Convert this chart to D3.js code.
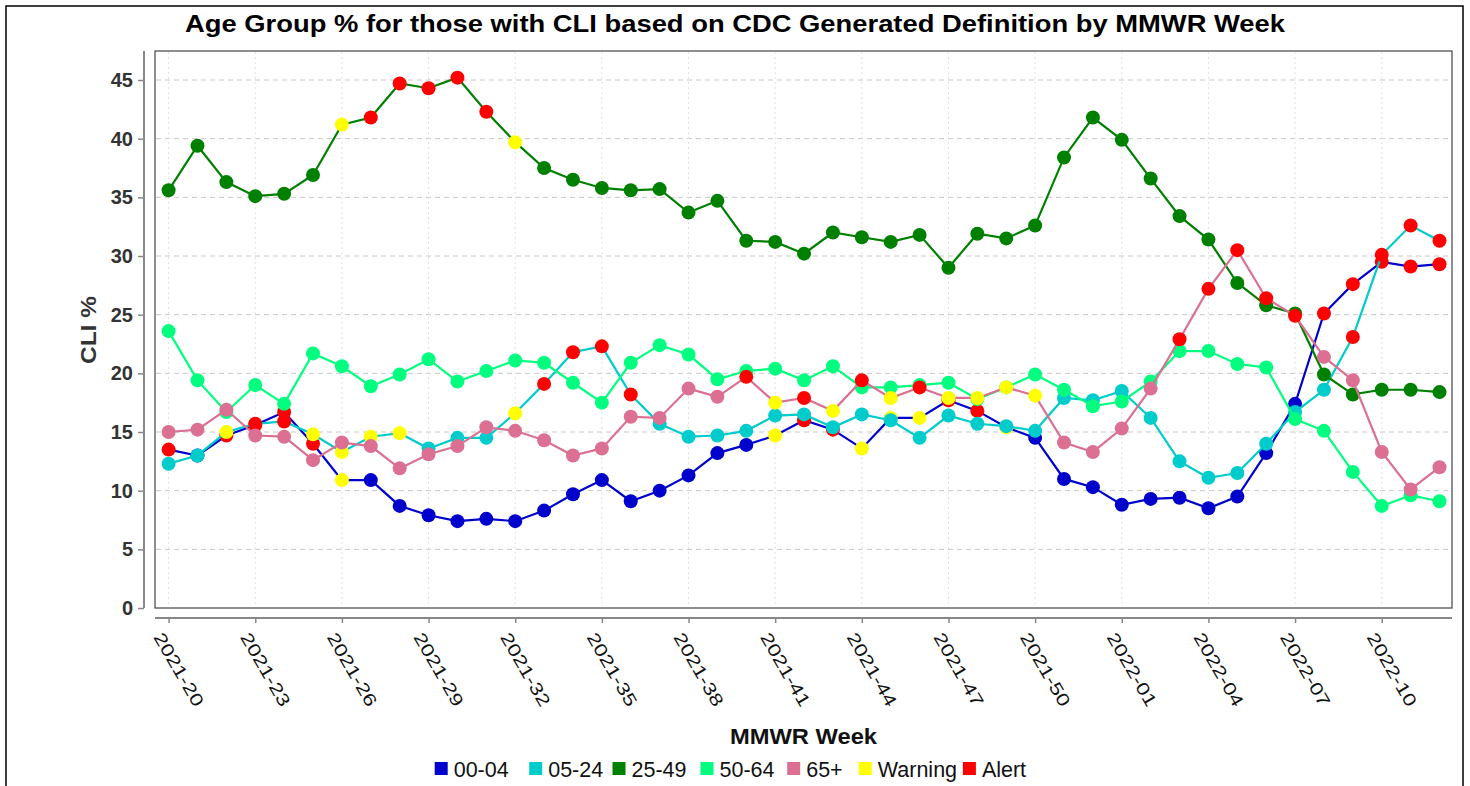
<!DOCTYPE html>
<html><head><meta charset="utf-8">
<script src="https://cdn.jsdelivr.net/npm/d3@7"></script>
<style>
body{margin:0;background:#fff;}
svg{display:block;font-family:"Liberation Sans",Arial,sans-serif;}
</style>
</head><body>
<svg id="chart" width="1470" height="786"></svg>
<script>
const weeks = ["2021-20","2021-21","2021-22","2021-23","2021-24","2021-25","2021-26","2021-27","2021-28","2021-29",
"2021-30","2021-31","2021-32","2021-33","2021-34","2021-35","2021-36","2021-37","2021-38","2021-39",
"2021-40","2021-41","2021-42","2021-43","2021-44","2021-45","2021-46","2021-47","2021-48","2021-49",
"2021-50","2021-51","2021-52","2022-01","2022-02","2022-03","2022-04","2022-05","2022-06","2022-07",
"2022-08","2022-09","2022-10","2022-11","2022-12"];
const xTickLabels = ["2021-20","2021-23","2021-26","2021-29","2021-32","2021-35","2021-38","2021-41",
"2021-44","2021-47","2021-50","2022-01","2022-04","2022-07","2022-10"];
const yTicks = [0,5,10,15,20,25,30,35,40,45];

const seriesNames = ["00-04","05-24","25-49","50-64","65+"];
const age0004 = [13.5,13.0,14.7,15.6,16.7,14.0,10.9,10.9,8.7,7.9,7.4,7.6,7.4,8.3,9.7,10.9,9.1,10.0,11.3,13.2,13.9,14.7,16.0,15.2,13.6,16.2,16.2,17.7,16.8,15.4,14.5,11.0,10.3,8.8,9.3,9.4,8.5,9.5,13.2,17.4,25.1,27.6,29.5,29.1,29.3];
const age0524 = [12.3,13.0,15.0,15.7,15.9,14.8,13.3,14.6,14.9,13.6,14.5,14.5,16.6,19.1,21.8,22.3,18.2,15.7,14.6,14.7,15.1,16.4,16.5,15.4,16.5,16.0,14.5,16.4,15.7,15.5,15.1,17.9,17.7,18.5,16.2,12.5,11.1,11.5,14.0,16.7,18.6,23.1,30.1,32.6,31.3];
const age2549 = [35.6,39.4,36.3,35.1,35.3,36.9,41.2,41.8,44.7,44.3,45.2,42.3,39.7,37.5,36.5,35.8,35.6,35.7,33.7,34.7,31.3,31.2,30.2,32.0,31.6,31.2,31.8,29.0,31.9,31.5,32.6,38.4,41.8,39.9,36.6,33.4,31.4,27.7,25.8,25.1,19.9,18.2,18.6,18.6,18.4];
const age5064 = [23.6,19.4,16.7,19.0,17.4,21.7,20.6,18.9,19.9,21.2,19.3,20.2,21.1,20.9,19.2,17.5,20.9,22.4,21.6,19.5,20.2,20.4,19.4,20.6,18.8,18.8,19.0,19.2,17.8,18.8,19.9,18.6,17.2,17.6,19.3,21.9,21.9,20.8,20.5,16.1,15.1,11.6,8.7,9.6,9.1];
const age65 = [15.0,15.2,16.9,14.7,14.6,12.6,14.1,13.8,11.9,13.1,13.8,15.4,15.1,14.3,13.0,13.6,16.3,16.2,18.7,18.0,19.7,17.5,17.9,16.8,19.4,17.9,18.8,17.9,17.9,18.8,18.1,14.1,13.3,15.3,18.7,22.9,27.2,30.5,26.4,24.9,21.4,19.4,13.3,10.1,12.0];

// point status per week: "." normal, "W" warning, "A" alert
const status0004 = "A.AAAAW..............WAAWWWAAW..........AAAAA";
const status0524 = "..WAAWWWW...WAAAA........................AAAA";
const status2549 = "......WAAAAAW................................";
const status5064 = ".............................................";
const status65   = "....................AWAWAWAWWWW....AAAAA.....";

const seriesColors = ["#0000CC","#00CCCC","#008000","#00FF7F","#DB7093"];
const warningColor = "#FFFF00", alertColor = "#FF0000";
const legendLabels = ["00-04","05-24","25-49","50-64","65+","Warning","Alert"];
const legendColors = seriesColors.concat([warningColor, alertColor]);

const seriesValues = [age0004, age0524, age2549, age5064, age65];
const seriesStatus = [status0004, status0524, status2549, status5064, status65];

const svg = d3.select("#chart");
const FONT = '"Liberation Sans",Arial,sans-serif';
const P = {left:155, right:1452, top:51, bottom:608};

const x = d3.scalePoint().domain(weeks).range([168.6, 1439.5]);
const y = d3.scaleLinear().domain([0,45]).range([608, 80]);

// outer frame
svg.append("rect").attr("x",6).attr("y",6).attr("width",1457).attr("height",800)
  .attr("fill","#fff").attr("stroke","#000").attr("stroke-width",1.5);

// title
svg.append("text").attr("x",735).attr("y",32).attr("text-anchor","middle")
  .attr("font-size",23.5).attr("font-weight","bold").attr("fill","#000")
  .attr("textLength",1100).attr("lengthAdjust","spacingAndGlyphs")
  .text("Age Group % for those with CLI based on CDC Generated Definition by MMWR Week");

// panel
svg.append("rect").attr("x",P.left).attr("y",P.top).attr("width",P.right-P.left).attr("height",P.bottom-P.top)
  .attr("fill","#fff").attr("stroke","#444").attr("stroke-width",1.2);

// grid
svg.append("g").selectAll("line").data(yTicks.filter(d=>d>0)).join("line")
  .attr("x1",P.left+1).attr("x2",P.right-1).attr("y1",d=>y(d)).attr("y2",d=>y(d))
  .attr("stroke","#c8c8c8").attr("stroke-dasharray","5,4").attr("stroke-width",1);
svg.append("g").selectAll("line").data(xTickLabels).join("line")
  .attr("x1",d=>x(d)).attr("x2",d=>x(d)).attr("y1",P.top+1).attr("y2",P.bottom-1)
  .attr("stroke","#e2e2e2").attr("stroke-dasharray","2,3").attr("stroke-width",1);

// y axis
const yAxis = svg.append("g").attr("transform","translate(144,0)")
  .call(d3.axisLeft(y).tickValues(yTicks).tickSize(6).tickSizeOuter(0).tickPadding(5));
yAxis.select(".domain").remove();
yAxis.append("line").attr("x1",0).attr("x2",0).attr("y1",P.top).attr("y2",P.bottom)
  .attr("stroke","#888").attr("stroke-width",2);
yAxis.selectAll(".tick line").attr("stroke","#888").attr("stroke-width",1.5);
yAxis.selectAll(".tick text").attr("font-size",20).attr("font-weight","bold").attr("fill","#333")
  .attr("font-family",FONT);

// x axis
const xAxis = svg.append("g").attr("transform","translate(0,618)")
  .call(d3.axisBottom(x).tickValues(xTickLabels).tickSize(5).tickSizeOuter(0));
xAxis.select(".domain").remove();
xAxis.append("line").attr("x1",P.left).attr("x2",P.right).attr("y1",0).attr("y2",0)
  .attr("stroke","#888").attr("stroke-width",2);
xAxis.selectAll(".tick line").attr("stroke","#888").attr("stroke-width",1.5);
xAxis.selectAll(".tick text")
  .attr("font-size",17.5).attr("fill","#111").attr("font-family",FONT)
  .attr("text-anchor","start").attr("dy",null).attr("x",0).attr("y",0)
  .attr("transform","translate(-16,19) rotate(60)")
  .attr("textLength",82).attr("lengthAdjust","spacingAndGlyphs");

// axis titles
svg.append("text").attr("transform","translate(96,330) rotate(-90)").attr("text-anchor","middle")
  .attr("font-size",22).attr("font-weight","bold").attr("fill","#333")
  .attr("textLength",68).attr("lengthAdjust","spacingAndGlyphs").text("CLI %");
svg.append("text").attr("x",803.5).attr("y",744).attr("text-anchor","middle")
  .attr("font-size",22).attr("font-weight","bold").attr("fill","#111")
  .attr("textLength",147).attr("lengthAdjust","spacingAndGlyphs").text("MMWR Week");

// series
const line = d3.line().x((d,i)=>x(weeks[i])).y(d=>y(d));
seriesValues.forEach((vals, s) => {
  const g = svg.append("g");
  g.append("path").datum(vals).attr("d",line).attr("fill","none")
    .attr("stroke",seriesColors[s]).attr("stroke-width",2.2);
  g.selectAll("circle").data(vals).join("circle")
    .attr("cx",(d,i)=>x(weeks[i])).attr("cy",d=>y(d)).attr("r",7)
    .attr("fill",(d,i)=>{
      const st = seriesStatus[s][i];
      return st==="A" ? alertColor : st==="W" ? warningColor : seriesColors[s];
    });
});

// legend
const legendX = [434.7, 529.2, 612.5, 700.5, 787.2, 858.8, 962.9];
const lg = svg.append("g");
legendLabels.forEach((lab,i)=>{
  lg.append("rect").attr("x",legendX[i]).attr("y",762).attr("width",13).attr("height",13)
    .attr("fill",legendColors[i]);
  lg.append("text").attr("x",legendX[i]+19).attr("y",777).attr("font-size",21.5)
    .attr("fill","#111").text(lab);
});
</script>
</body></html>
